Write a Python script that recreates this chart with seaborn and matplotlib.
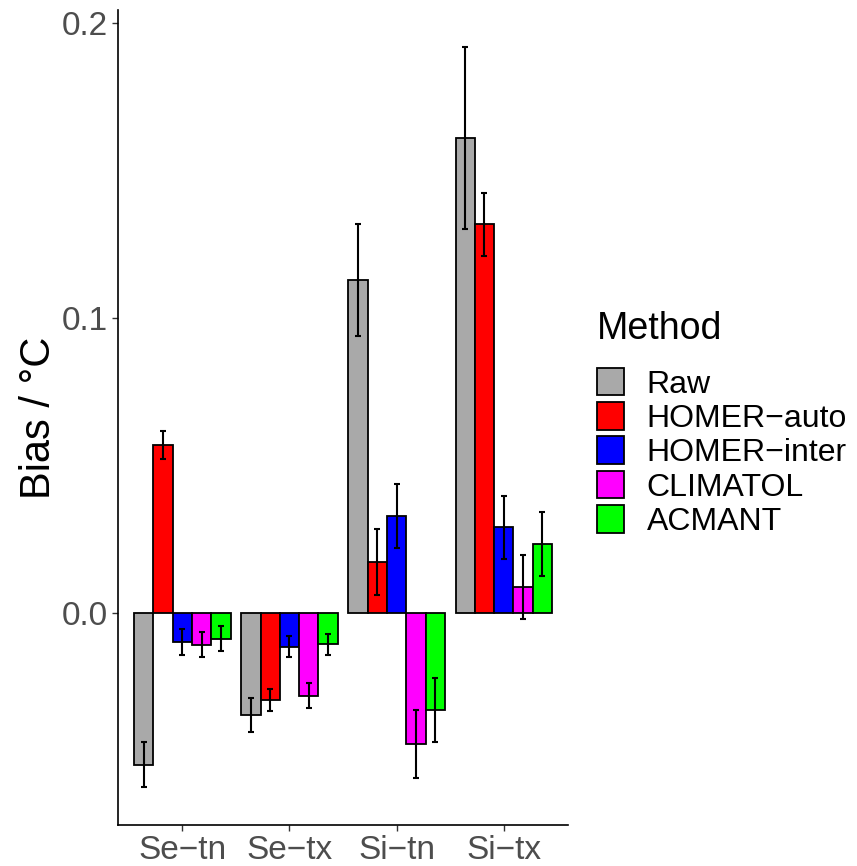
import matplotlib
matplotlib.use("Agg")
import matplotlib.pyplot as plt
import seaborn as sns
import pandas as pd
from matplotlib.patches import Patch

# Station/variable groups and homogenisation methods
categories = ["Se\u2212tn", "Se\u2212tx", "Si\u2212tn", "Si\u2212tx"]
methods = ["Raw", "HOMER\u2212auto", "HOMER\u2212inter", "CLIMATOL", "ACMANT"]
colors = ["#A9A9A9", "#FF0000", "#0000FF", "#FF00FF", "#00FF00"]

# Mean bias (°C) per method, one value per group
bias_raw = [-0.0515, -0.0345, 0.1129, 0.1610]
bias_homer_auto = [0.0570, -0.0295, 0.0173, 0.1317]
bias_homer_inter = [-0.0099, -0.0114, 0.0328, 0.0290]
bias_climatol = [-0.0108, -0.0281, -0.0444, 0.0088]
bias_acmant = [-0.0088, -0.0106, -0.0329, 0.0233]

# Standard errors of the bias
se_raw = [0.0076, 0.0058, 0.0190, 0.0310]
se_homer_auto = [0.0048, 0.0037, 0.0113, 0.0107]
se_homer_inter = [0.0043, 0.0036, 0.0109, 0.0107]
se_climatol = [0.0042, 0.0042, 0.0114, 0.0108]
se_acmant = [0.0042, 0.0036, 0.0110, 0.0108]

bias_all = [bias_raw, bias_homer_auto, bias_homer_inter, bias_climatol, bias_acmant]
se_all = [se_raw, se_homer_auto, se_homer_inter, se_climatol, se_acmant]

rows = []
for m, b, s in zip(methods, bias_all, se_all):
    for c, bv, sv in zip(categories, b, s):
        rows.append({"group": c, "Method": m, "bias": bv, "se": sv})
df = pd.DataFrame(rows)

sns.set_style("white")
plt.rcParams["font.family"] = ["Liberation Sans", "DejaVu Sans"]

fig = plt.figure(figsize=(8.57, 8.66), dpi=100)
ax = fig.add_axes([118 / 857, 1 - 825 / 866, 450 / 857, 815 / 866])

sns.barplot(data=df, x="group", y="bias", hue="Method", order=categories,
            hue_order=methods, palette=colors, width=0.9, errorbar=None,
            edgecolor="black", linewidth=1.3, saturation=1, ax=ax)

# Error bars: mean ± one standard error, centred on each bar
for cont, m in zip(ax.containers, methods):
    sub = df[df["Method"] == m].set_index("group").loc[categories]
    xs = [bar.get_x() + bar.get_width() / 2 for bar in cont]
    ax.errorbar(xs, sub["bias"].values, yerr=sub["se"].values, fmt="none",
                ecolor="black", elinewidth=1.5, capsize=2.2, capthick=1.5,
                zorder=5)

ax.set_xlim(-0.6, 3.6)
ax.set_ylim(-0.0719, 0.2044)
ax.set_yticks([0.0, 0.1, 0.2])
ax.set_yticklabels(["0.0", "0.1", "0.2"])
ax.set_xlabel("")
ax.set_ylabel("Bias / \u00b0C", fontsize=30, color="black", labelpad=2)
ax.tick_params(axis="both", which="both", length=4, width=1, color="#333333",
               labelsize=24, labelcolor="#4D4D4D", pad=3, left=True, bottom=True)

for side in ["top", "right"]:
    ax.spines[side].set_visible(False)
for side in ["left", "bottom"]:
    ax.spines[side].set_color("black")
    ax.spines[side].set_linewidth(1.2)

handles = [Patch(facecolor=c, edgecolor="black", linewidth=1.3) for c in colors]
if ax.get_legend() is not None:
    ax.get_legend().remove()
leg = ax.legend(handles, methods, title="Method", loc="upper left",
                bbox_to_anchor=(597 / 857, 1 - 311 / 866),
                bbox_transform=fig.transFigure, frameon=False,
                fontsize=23, title_fontsize=27, handlelength=0.85,
                handleheight=0.95, labelspacing=0.08, handletextpad=0.7,
                borderpad=0, borderaxespad=0, labelcolor="black")
leg.get_title().set_color("black")
leg._legend_box.align = "left"
leg._legend_box.sep = 15

fig.savefig("out.png", dpi=100, facecolor="white")
